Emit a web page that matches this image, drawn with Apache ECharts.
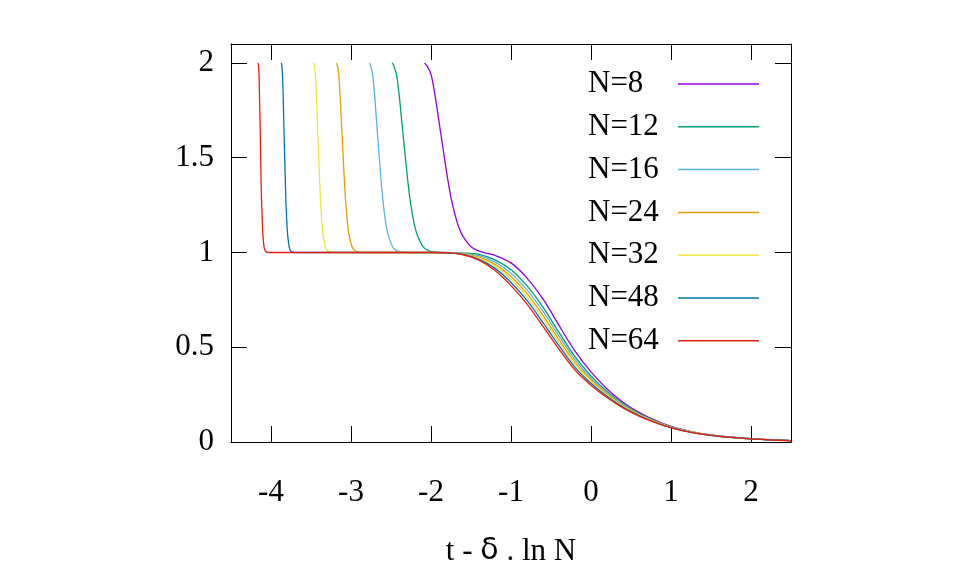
<!DOCTYPE html>
<html>
<head>
<meta charset="utf-8">
<script src="https://cdn.jsdelivr.net/npm/echarts@6/dist/echarts.min.js"></script>
<style>
  html, body { margin: 0; padding: 0; background: #fff; }
  #chart { width: 963px; height: 578px; }
</style>
</head>
<body>
<div id="chart"></div>
<script>
// curves: [t - delta ln N, value]
const n8 = [[-2.08,2.0],[-2.05,1.985],[-2.0,1.94],[-1.95,1.83],[-1.9,1.69],[-1.85,1.55],[-1.8,1.41],[-1.75,1.29],[-1.7,1.2],[-1.65,1.13],[-1.6,1.085],[-1.5,1.03],[-1.4,1.008],[-1.3,0.995],[-1.2,0.985],[-1.0,0.945],[-0.8,0.865],[-0.6,0.755],[-0.4,0.615],[-0.2,0.48],[0,0.37],[0.2,0.28],[0.4,0.21],[0.6,0.156],[0.8,0.115],[1.0,0.082],[1.25,0.055],[1.5,0.037],[1.75,0.025],[2.0,0.017],[2.25,0.011],[2.5,0.007]];
const n12 = [[-2.485,2.0],[-2.465,1.985],[-2.432,1.94],[-2.398,1.83],[-2.365,1.69],[-2.332,1.55],[-2.298,1.41],[-2.265,1.29],[-2.232,1.2],[-2.198,1.13],[-2.165,1.085],[-2.098,1.03],[-2.032,1.01],[-1.951,1.003],[-1.85,1.0],[-1.6,0.997],[-1.4,0.99],[-1.2,0.961],[-1.0,0.909],[-0.8,0.824],[-0.6,0.712],[-0.4,0.578],[-0.2,0.45],[0,0.349],[0.2,0.266],[0.4,0.201],[0.6,0.15],[0.8,0.111],[1.0,0.08],[1.25,0.054],[1.5,0.036],[1.75,0.025],[2.0,0.017],[2.25,0.011],[2.5,0.007]];
const n16 = [[-2.77,2.0],[-2.755,1.985],[-2.73,1.94],[-2.705,1.83],[-2.68,1.69],[-2.655,1.55],[-2.63,1.41],[-2.605,1.29],[-2.58,1.2],[-2.555,1.13],[-2.53,1.085],[-2.48,1.03],[-2.43,1.01],[-2.37,1.003],[-2.295,1.0],[-1.8,0.999],[-1.6,0.995],[-1.4,0.983],[-1.2,0.949],[-1.0,0.891],[-0.8,0.803],[-0.6,0.69],[-0.4,0.559],[-0.2,0.435],[0,0.338],[0.2,0.26],[0.4,0.197],[0.6,0.147],[0.8,0.11],[1.0,0.079],[1.25,0.054],[1.5,0.036],[1.75,0.025],[2.0,0.017],[2.25,0.011],[2.5,0.007]];
const n24 = [[-3.18,2.0],[-3.17,1.985],[-3.153,1.94],[-3.137,1.83],[-3.12,1.69],[-3.103,1.55],[-3.087,1.41],[-3.07,1.29],[-3.053,1.2],[-3.037,1.13],[-3.02,1.085],[-2.987,1.03],[-2.953,1.01],[-2.913,1.003],[-2.863,1.0],[-2.0,1.0],[-1.8,0.999],[-1.6,0.993],[-1.4,0.975],[-1.2,0.937],[-1.0,0.873],[-0.8,0.783],[-0.6,0.668],[-0.4,0.54],[-0.2,0.42],[0,0.328],[0.2,0.253],[0.4,0.192],[0.6,0.145],[0.8,0.108],[1.0,0.078],[1.25,0.053],[1.5,0.036],[1.75,0.024],[2.0,0.016],[2.25,0.011],[2.5,0.007]];
const n32 = [[-3.465,2.0],[-3.458,1.985],[-3.445,1.94],[-3.433,1.83],[-3.42,1.69],[-3.408,1.55],[-3.395,1.41],[-3.383,1.29],[-3.37,1.2],[-3.358,1.13],[-3.345,1.085],[-3.32,1.03],[-3.295,1.01],[-3.265,1.003],[-3.228,1.0],[-2.0,1.0],[-1.8,0.999],[-1.6,0.991],[-1.4,0.969],[-1.2,0.927],[-1.0,0.859],[-0.8,0.766],[-0.6,0.651],[-0.4,0.525],[-0.2,0.408],[0,0.32],[0.2,0.248],[0.4,0.188],[0.6,0.142],[0.8,0.106],[1.0,0.077],[1.25,0.052],[1.5,0.035],[1.75,0.024],[2.0,0.016],[2.25,0.011],[2.5,0.007]];
const n48 = [[-3.87,2.0],[-3.865,1.985],[-3.857,1.94],[-3.848,1.83],[-3.84,1.69],[-3.832,1.55],[-3.823,1.41],[-3.815,1.29],[-3.807,1.2],[-3.798,1.13],[-3.79,1.085],[-3.773,1.03],[-3.757,1.01],[-3.737,1.003],[-3.712,1.0],[-2.0,1.0],[-1.8,0.998],[-1.6,0.99],[-1.4,0.964],[-1.2,0.916],[-1.0,0.842],[-0.8,0.747],[-0.6,0.63],[-0.4,0.508],[-0.2,0.394],[0,0.31],[0.2,0.241],[0.4,0.184],[0.6,0.14],[0.8,0.104],[1.0,0.076],[1.25,0.051],[1.5,0.035],[1.75,0.024],[2.0,0.016],[2.25,0.011],[2.5,0.007]];
const n64 = [[-4.16,2.0],[-4.156,1.985],[-4.15,1.94],[-4.144,1.83],[-4.137,1.69],[-4.131,1.55],[-4.125,1.41],[-4.119,1.29],[-4.112,1.2],[-4.106,1.13],[-4.1,1.085],[-4.087,1.03],[-4.075,1.01],[-4.06,1.003],[-4.041,1.0],[-2.0,1.0],[-1.8,0.998],[-1.6,0.988],[-1.4,0.96],[-1.2,0.905],[-1.0,0.825],[-0.8,0.728],[-0.6,0.61],[-0.4,0.49],[-0.2,0.38],[0,0.3],[0.2,0.235],[0.4,0.18],[0.6,0.137],[0.8,0.103],[1.0,0.075],[1.25,0.051],[1.5,0.035],[1.75,0.024],[2.0,0.016],[2.25,0.011],[2.5,0.007]];

const seriesNames = ['N=8', 'N=12', 'N=16', 'N=24', 'N=32', 'N=48', 'N=64'];
const seriesData = [n8, n12, n16, n24, n32, n48, n64];
const colors = ['#9400d3', '#009e73', '#56b4e9', '#e69f00', '#f0e442', '#0072b2', '#e51e10'];

const xTicks = [-4, -3, -2, -1, 0, 1, 2];
const yTicks = [0, 0.5, 1, 1.5, 2];

const font = '"Liberation Serif", "Times New Roman", serif';
const fontSize = 31;

const chart = echarts.init(document.getElementById('chart'), null, { renderer: 'canvas' });

const frameLine = { show: true, onZero: false, lineStyle: { color: '#000', width: 1 } };
const tick = values => ({
  show: true,
  inside: true,
  length: 16,
  customValues: values,
  lineStyle: { color: '#000', width: 1 }
});

const option = {
  animation: false,
  backgroundColor: '#fff',
  color: colors,
  grid: { left: 231, right: 172, top: 44, bottom: 136, containLabel: false },
  legend: {
    data: seriesNames,
    orient: 'vertical',
    left: 588,
    top: 68,
    padding: 0,
    align: 'right',
    icon: 'rect',
    itemWidth: 81,
    itemHeight: 1.5,
    itemGap: 10.8,
    formatter: name => `{t|${name}}`,
    textStyle: {
      fontFamily: font,
      fontSize: fontSize,
      color: '#000',
      lineHeight: 32,
      rich: {
        t: { width: 85, align: 'left', fontFamily: font, fontSize: fontSize, color: '#000' }
      }
    }
  },
  xAxis: [
    {
      type: 'value',
      position: 'bottom',
      min: -4.5,
      max: 2.5,
      axisLine: frameLine,
      axisTick: tick(xTicks),
      splitLine: { show: false },
      axisLabel: {
        customValues: xTicks,
        margin: 35,
        fontFamily: font,
        fontSize: fontSize,
        color: '#000'
      },
      name: '{a|t - }{b|δ}{a| . ln N}',
      nameLocation: 'middle',
      nameGap: 94,
      nameTextStyle: {
        rich: {
          a: { fontFamily: font, fontSize: fontSize, color: '#000' },
          b: { fontFamily: '"DejaVu Sans", sans-serif', fontSize: 30, color: '#000' }
        }
      }
    },
    {
      type: 'value',
      position: 'top',
      min: -4.5,
      max: 2.5,
      axisLine: frameLine,
      axisTick: tick(xTicks),
      axisLabel: { show: false },
      splitLine: { show: false }
    }
  ],
  yAxis: [
    {
      type: 'value',
      position: 'left',
      min: 0,
      max: 2.1,
      axisLine: frameLine,
      axisTick: tick(yTicks),
      splitLine: { show: false },
      axisLabel: {
        customValues: yTicks,
        margin: 17,
        fontFamily: font,
        fontSize: fontSize,
        color: '#000'
      }
    },
    {
      type: 'value',
      position: 'right',
      min: 0,
      max: 2.1,
      axisLine: frameLine,
      axisTick: tick(yTicks),
      axisLabel: { show: false },
      splitLine: { show: false }
    }
  ],
  series: seriesNames.map((name, i) => ({
    name: name,
    type: 'line',
    data: seriesData[i],
    showSymbol: false,
    smooth: 0.35,
    lineStyle: { width: 1.3, color: colors[i] },
    itemStyle: { color: colors[i] },
    emphasis: { disabled: true }
  }))
};

chart.setOption(option);
</script>
</body>
</html>
